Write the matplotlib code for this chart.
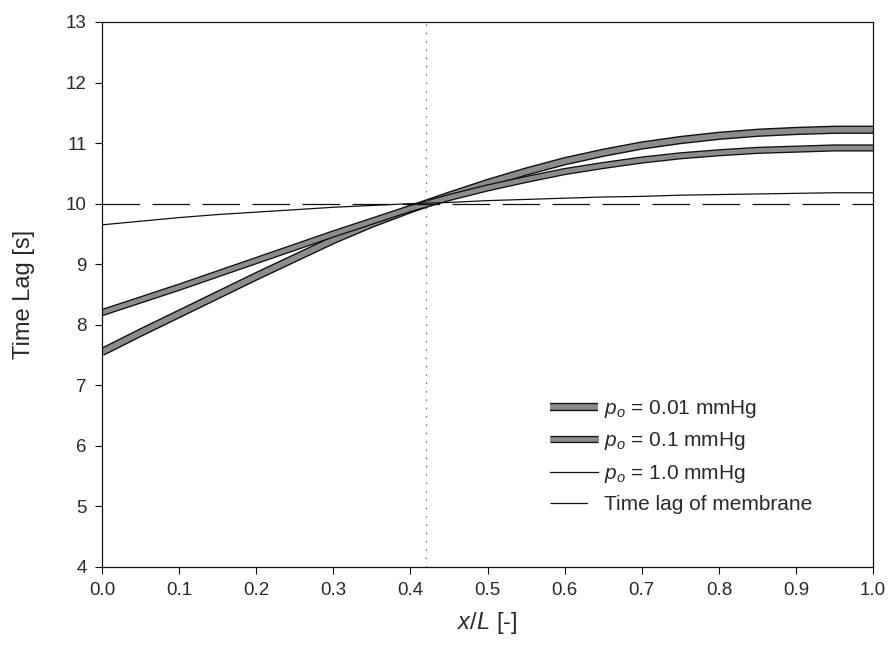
import matplotlib
matplotlib.use("Agg")
import matplotlib.pyplot as plt
import matplotlib.patheffects as pe
from matplotlib.lines import Line2D

plt.rcParams['font.family'] = ['Liberation Sans', 'DejaVu Sans']
plt.rcParams['mathtext.fontset'] = 'custom'
plt.rcParams['mathtext.rm'] = 'Liberation Sans'
plt.rcParams['mathtext.it'] = 'Liberation Sans:italic'
plt.rcParams['lines.scale_dashes'] = False

# values
x_pos = [0.0, 0.05, 0.1, 0.15, 0.2, 0.25, 0.3, 0.35, 0.4, 0.45, 0.5,
         0.55, 0.6, 0.65, 0.7, 0.75, 0.8, 0.85, 0.9, 0.95, 1.0]
lag_001 = [7.55, 7.87, 8.18, 8.49, 8.80, 9.10, 9.40, 9.67, 9.91, 10.13, 10.34,
           10.53, 10.70, 10.84, 10.96, 11.05, 11.12, 11.17, 11.20, 11.22, 11.22]
lag_01 = [8.20, 8.41, 8.62, 8.84, 9.06, 9.28, 9.50, 9.71, 9.92, 10.10, 10.26,
          10.40, 10.53, 10.63, 10.72, 10.79, 10.84, 10.88, 10.90, 10.92, 10.92]
lag_1 = [9.65, 9.71, 9.77, 9.82, 9.86, 9.90, 9.94, 9.97, 10.0, 10.02, 10.05,
         10.07, 10.09, 10.11, 10.12, 10.14, 10.15, 10.16, 10.17, 10.18, 10.18]
membrane_lag = 10.0
x_cross = 0.42
labels = [r'$p_o$ = 0.01 mmHg', r'$p_o$ = 0.1 mmHg', r'$p_o$ = 1.0 mmHg', 'Time lag of membrane']

txt = '#2a2a2a'
fig, ax = plt.subplots(figsize=(8.91, 6.56), dpi=100)
fig.subplots_adjust(left=0.1145, right=0.98, top=0.9665, bottom=0.1357)

thick = [pe.Stroke(linewidth=6.0, foreground='#111111'), pe.Normal()]
medium = [pe.Stroke(linewidth=5.2, foreground='#111111'), pe.Normal()]
l1, = ax.plot(x_pos, lag_001, color='#8c8c8c', lw=4.0, solid_capstyle='butt',
              path_effects=thick)
l2, = ax.plot(x_pos, lag_01, color='#8c8c8c', lw=3.3, solid_capstyle='butt',
              path_effects=medium)
l3, = ax.plot(x_pos, lag_1, color='#111111', lw=0.9)
ax.plot([0, 1], [membrane_lag, membrane_lag], color='#111111', lw=0.9, dashes=(27, 9))
ax.axvline(x_cross, color='#555555', lw=0.8, ls=(0, (1, 5)))

# legend proxy for the dashed line: one short dash
l4 = Line2D([], [], color='#111111', lw=0.9, dashes=(27, 40))

ax.set_xlim(0, 1)
ax.set_ylim(4, 13)
ax.set_xticks([i / 10 for i in range(11)])
ax.set_xticklabels([f'{i / 10:.1f}' for i in range(11)])
ax.set_yticks(range(4, 14))
ax.tick_params(direction='out', length=5, width=0.8, labelsize=13.5, colors='#111111',
               labelcolor=txt, pad=6)
for s in ax.spines.values():
    s.set_linewidth(0.9)
    s.set_color('#111111')

ax.set_xlabel(r'$x/L$ [-]', fontsize=17, color=txt, labelpad=8)
ax.set_ylabel('Time Lag [s]', fontsize=17, color=txt, labelpad=22)

ax.legend([l1, l2, l3, l4], labels, loc='upper left', bbox_to_anchor=(0.581, 0.31),
          frameon=False, fontsize=15, handlelength=2.3, handletextpad=0.3,
          labelspacing=0.5, borderpad=0, borderaxespad=0, labelcolor=txt)

fig.savefig('out.png', dpi=100)
